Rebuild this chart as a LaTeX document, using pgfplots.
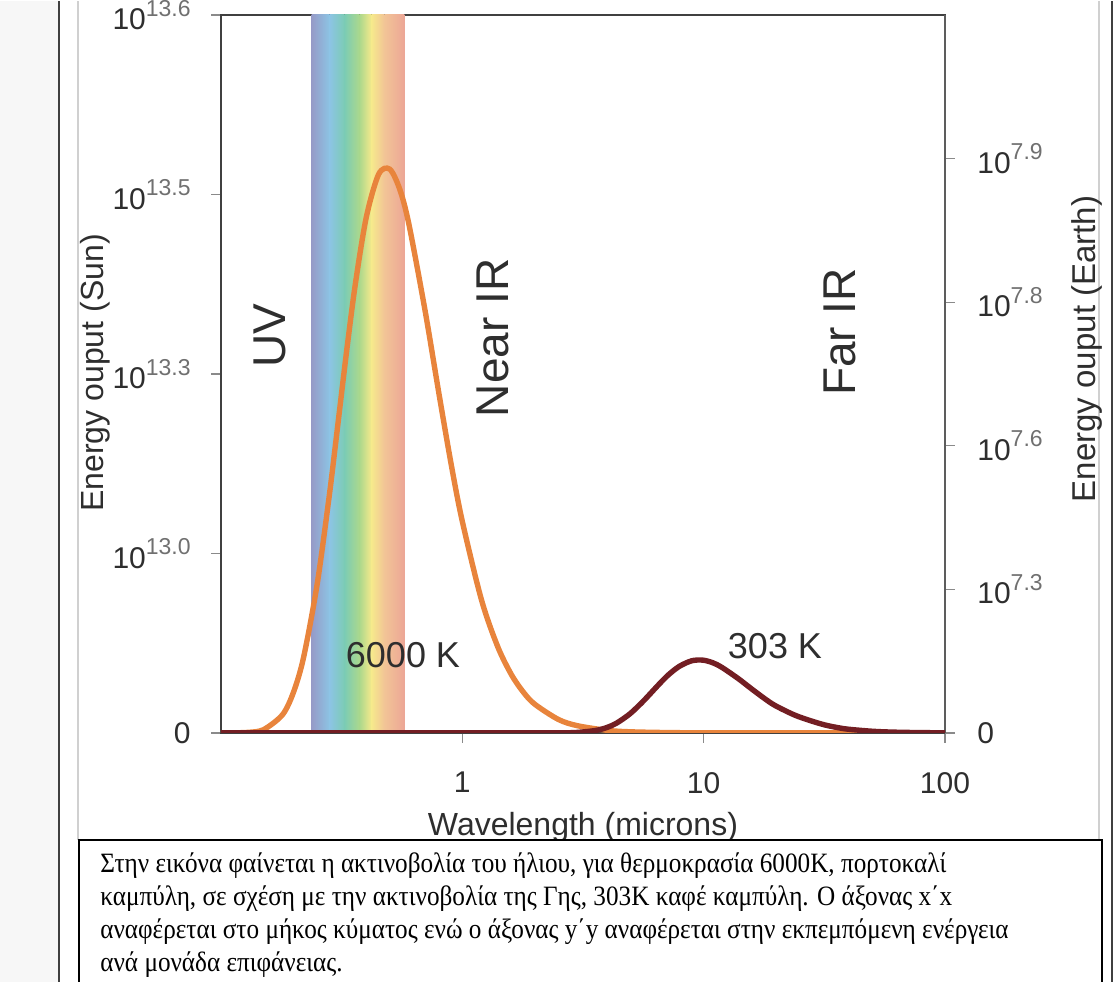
\documentclass[border=0pt]{standalone}
\usepackage{pgfplots}
\pgfplotsset{compat=1.18}
\usepackage{fontspec}
\setmainfont{Liberation Sans}
\newfontfamily\grserif[FakeStretch=0.9]{Liberation Serif}

\definecolor{sunorange}{HTML}{E8843C}
\definecolor{earthbrown}{HTML}{731E23}
\definecolor{axgray}{HTML}{404040}
\definecolor{tickgray}{HTML}{8A8A8A}
\definecolor{labgray}{HTML}{2E2E2E}
\definecolor{supgray}{HTML}{707070}
\definecolor{pagegray}{HTML}{F7F7F7}
\definecolor{frame}{HTML}{D0D0D0}
% rainbow band
\definecolor{rb1}{RGB}{150,155,200}
\definecolor{rb2}{RGB}{140,196,228}
\definecolor{rb3}{RGB}{124,204,180}
\definecolor{rb4}{RGB}{172,216,140}
\definecolor{rb5}{RGB}{246,233,140}
\definecolor{rb6}{RGB}{242,196,150}
\definecolor{rb7}{RGB}{236,166,150}

\newcommand{\ten}[1]{10\raisebox{0.45em}{\fontsize{11.5}{11.5}\selectfont\color{supgray}#1}}

\begin{document}
\begin{tikzpicture}
% page decoration, 1 unit = 1 px of the reference
\begin{scope}[x=0.5pt,y=0.5pt]
\path[use as bounding box] (0,0) rectangle (1114,981);
\fill[pagegray] (0,0) rectangle (59,981);
\draw[axgray,line width=1pt] (59,0) -- (59,981);
\draw[frame,line width=0.6pt] (78,142) -- (78,981);
\draw[frame,line width=0.6pt] (1099,142) -- (1099,981);
\draw[axgray,line width=1pt] (1112,0) -- (1112,981);
\end{scope}

% Sun (left axis)
\begin{axis}[
  at={(110.5pt,124.5pt)}, anchor=south west,
  scale only axis, width=362pt, height=359pt,
  xmode=log, xmin=0.1, xmax=100,
  ymin=0, ymax=4,
  xtick={1,10,100}, xticklabels={1,10,100},
  ytick={0,1,2,3,4},
  yticklabels={0,\ten{13.0},\ten{13.3},\ten{13.5},\ten{13.6}},
  minor xtick={}, xminorticks=false,
  xtick pos=bottom, ytick pos=left,
  tick align=outside, major tick length=5pt,
  tick style={tickgray, line width=0.6pt},
  axis line style={axgray, line width=1.3pt},
  ticklabel style={font=\fontsize{15}{15}\selectfont, text=labgray},
  yticklabel style={inner sep=0pt, xshift=-10pt},
  xticklabel style={inner sep=0pt, yshift=-14.5pt},
]
\fill[left color=rb1, right color=rb2] (axis cs:0.2377,0) rectangle (axis cs:0.2821,4);
\fill[left color=rb2, right color=rb3] (axis cs:0.2821,0) rectangle (axis cs:0.3254,4);
\fill[left color=rb3, right color=rb4] (axis cs:0.3254,0) rectangle (axis cs:0.3753,4);
\fill[left color=rb4, right color=rb5] (axis cs:0.3753,0) rectangle (axis cs:0.4207,4);
\fill[left color=rb5, right color=rb6] (axis cs:0.4207,0) rectangle (axis cs:0.4761,4);
\fill[left color=rb6, right color=rb7] (axis cs:0.4761,0) rectangle (axis cs:0.5759,4);

% 6000 K curve
\addplot[sunorange, line width=2.7pt, smooth] coordinates {
(0.1,0) (0.12,0.001) (0.13,0.003) (0.15,0.018) (0.18,0.102) (0.2,0.229)
(0.22,0.422) (0.25,0.824) (0.28,1.306) (0.3,1.637) (0.33,2.104)
(0.36,2.497) (0.4,2.873) (0.45,3.112) (0.5,3.141) (0.55,3.030)
(0.6,2.837) (0.7,2.357) (0.8,1.890) (0.9,1.493) (1.0,1.178)
(1.2,0.742) (1.4,0.482) (1.6,0.323) (1.8,0.223) (2.0,0.159)
(2.5,0.075) (3,0.040) (4,0.014) (5,0.006) (7,0.002) (10,0.0004)
(20,0) (100,0)};
\end{axis}

% Earth (right axis)
\begin{axis}[
  at={(110.5pt,124.5pt)}, anchor=south west,
  scale only axis, width=362pt, height=359pt,
  xmode=log, xmin=0.1, xmax=100,
  ymin=0, ymax=5,
  axis x line=none, axis y line*=right,
  ytick={0,1,2,3,4},
  yticklabels={0,\ten{7.3},\ten{7.6},\ten{7.8},\ten{7.9}},
  tick align=outside, major tick length=5pt,
  tick style={tickgray, line width=0.6pt},
  axis line style={axgray!85, line width=1.1pt},
  ticklabel style={font=\fontsize{15}{15}\selectfont, text=labgray},
  yticklabel style={inner sep=0pt, xshift=11pt},
]
% 303 K curve
\addplot[earthbrown, line width=2.7pt, smooth] coordinates {
(0.1,0) (2,0) (2.5,0.0004) (2.97,0.003) (3.564,0.017) (3.96,0.037)
(4.356,0.068) (4.95,0.133) (5.544,0.211) (5.94,0.264) (6.534,0.339)
(7.128,0.403) (7.92,0.463) (8.91,0.502) (9.9,0.507) (10.89,0.489)
(11.88,0.457) (13.86,0.380) (15.84,0.305) (17.82,0.241) (19.8,0.190)
(23.76,0.125) (27.72,0.085) (31.68,0.056) (35.64,0.038) (39.6,0.026)
(49.5,0.012) (59.4,0.006) (79.2,0.002) (100,0.001)};
\end{axis}

\begin{scope}[x=0.5pt,y=0.5pt]
\node[rotate=90, anchor=base, inner sep=0pt, text=labgray, font=\fontsize{16}{16}\selectfont] at (103,609) {Energy ouput (Sun)};
\node[rotate=90, anchor=base, inner sep=0pt, text=labgray, font=\fontsize{16.5}{16.5}\selectfont] at (1095,633) {Energy ouput (Earth)};
\node[anchor=base, inner sep=0pt, text=labgray, font=\fontsize{16}{16}\selectfont] at (583,146) {Wavelength (microns)};

\node[rotate=90, anchor=base, inner sep=0pt, text=labgray, font=\fontsize{23}{23}\selectfont] at (285,646) {UV};
\node[rotate=90, anchor=base, inner sep=0pt, text=labgray, font=\fontsize{23}{23}\selectfont] at (508,644) {Near IR};
\node[rotate=90, anchor=base, inner sep=0pt, text=labgray, font=\fontsize{23}{23}\selectfont] at (855,650) {Far IR};
\node[anchor=base, inner sep=0pt, text=labgray, font=\fontsize{18}{18}\selectfont] at (403,314) {6000 K};
\node[anchor=base, inner sep=0pt, text=labgray, font=\fontsize{18}{18}\selectfont] at (775,323) {303 K};

% caption box
\fill[white] (79,0) rectangle (1102,142);
\draw[black, line width=0.6pt] (79,0) -- (79,142) -- (1102,142) -- (1102,0);
\begin{scope}[every node/.style={anchor=base west, inner sep=0pt, font=\grserif\fontsize{14}{14}\selectfont}]
\node at (100,109) {Στην εικόνα φαίνεται η ακτινοβολία του ήλιου, για θερμοκρασία 6000K, πορτοκαλί};
\node at (100,76) {καμπύλη, σε σχέση με την ακτινοβολία της Γης, 303K καφέ καμπύλη. Ο άξονας x΄x};
\node at (100,43) {αναφέρεται στο μήκος κύματος ενώ ο άξονας y΄y αναφέρεται στην εκπεμπόμενη ενέργεια};
\node at (100,10) {ανά μονάδα επιφάνειας.};
\end{scope}
\end{scope}
\end{tikzpicture}
\end{document}
